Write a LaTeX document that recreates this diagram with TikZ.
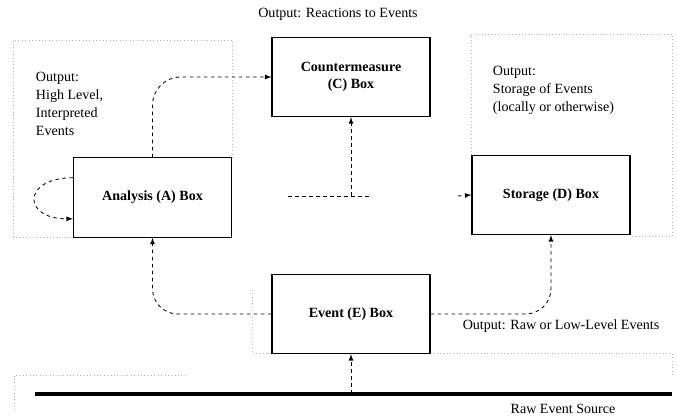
\documentclass[tikz,border=0pt]{standalone}
\usepackage{fontspec}
\setmainfont{Liberation Serif}
\usetikzlibrary{arrows}

\tikzset{
    box/.style={draw,line width=0.8pt,minimum width=3.95cm,minimum height=1.98cm,align=center,font=\bfseries},
    conn/.style={-latex,line width=0.6pt,dash pattern=on 2.5pt off 2.5pt},
    region/.style={gray!60,line width=0.4pt,dotted},
    note/.style={align=left,anchor=west,font=\fontsize{10}{12.8}\selectfont}
}

\begin{document}
\begin{tikzpicture}[x=0.025cm,y=-0.025cm]
    \useasboundingbox (0,0) rectangle (678,418);
    % faint region outlines
    \draw[region] (13,237) -- (13,40) -- (232,40) -- (232,158);
    \draw[region] (13,237) -- (73,237);
    \draw[region] (471,155) -- (471,34) -- (672,34) -- (672,236) -- (630,236);
    \draw[region] (252,290) -- (252,353) -- (272,353);
    \draw[region] (430,353) -- (672,353) -- (672,375);
    \draw[region] (14,410) -- (14,375) -- (185,375);

    % boxes
    \node[box] (counter) at (351,77) {Countermeasure\\(C) Box};
    \node[box] (analysis) at (152.5,197.5) {Analysis (A) Box};
    \node[box] (storage) at (551,195) {Storage (D) Box};
    \node[box] (event) at (351,314) {Event (E) Box};

    % raw event source
    \draw[line width=3.5pt] (35,394) -- (672,394);
    \coordinate (src) at (351,394);

    % labels
    \node (title) at (338,14) {Output: Reactions to Events};
    \node[note] (outA) at (31,104) {Output:\\High Level,\\Interpreted\\Events};
    \node[note] (outD) at (488,90) {Output:\\Storage of Events\\(locally or otherwise)};
    \node (outE) at (561,326) {Output: Raw or Low-Level Events};
    \node (srcl) at (563,409) {Raw Event Source};

    % connectors
    \draw[conn,rounded corners=20pt] (analysis.north) |- (counter.west);
    \draw[conn] (analysis.166) .. controls (22,178) and (22,219) .. (analysis.195);
    \draw[conn,rounded corners=18pt] (event.west) -| (analysis.south);
    \draw[conn,rounded corners=18pt] (event.east) -| (storage.south);
    \draw[conn] (src) -- (event.south);

    \coordinate (busL) at (288,196);
    \coordinate (busR) at (370,196);
    \coordinate (bus) at (counter.south |- busL);
    \coordinate (stub) at (458,196);
    \draw[line width=0.6pt,dash pattern=on 2.5pt off 2.5pt] (busL) -- (busR);
    \draw[conn] (bus) -- (counter.south);
    \draw[conn] (stub) -- (storage.west);
\end{tikzpicture}
\end{document}
